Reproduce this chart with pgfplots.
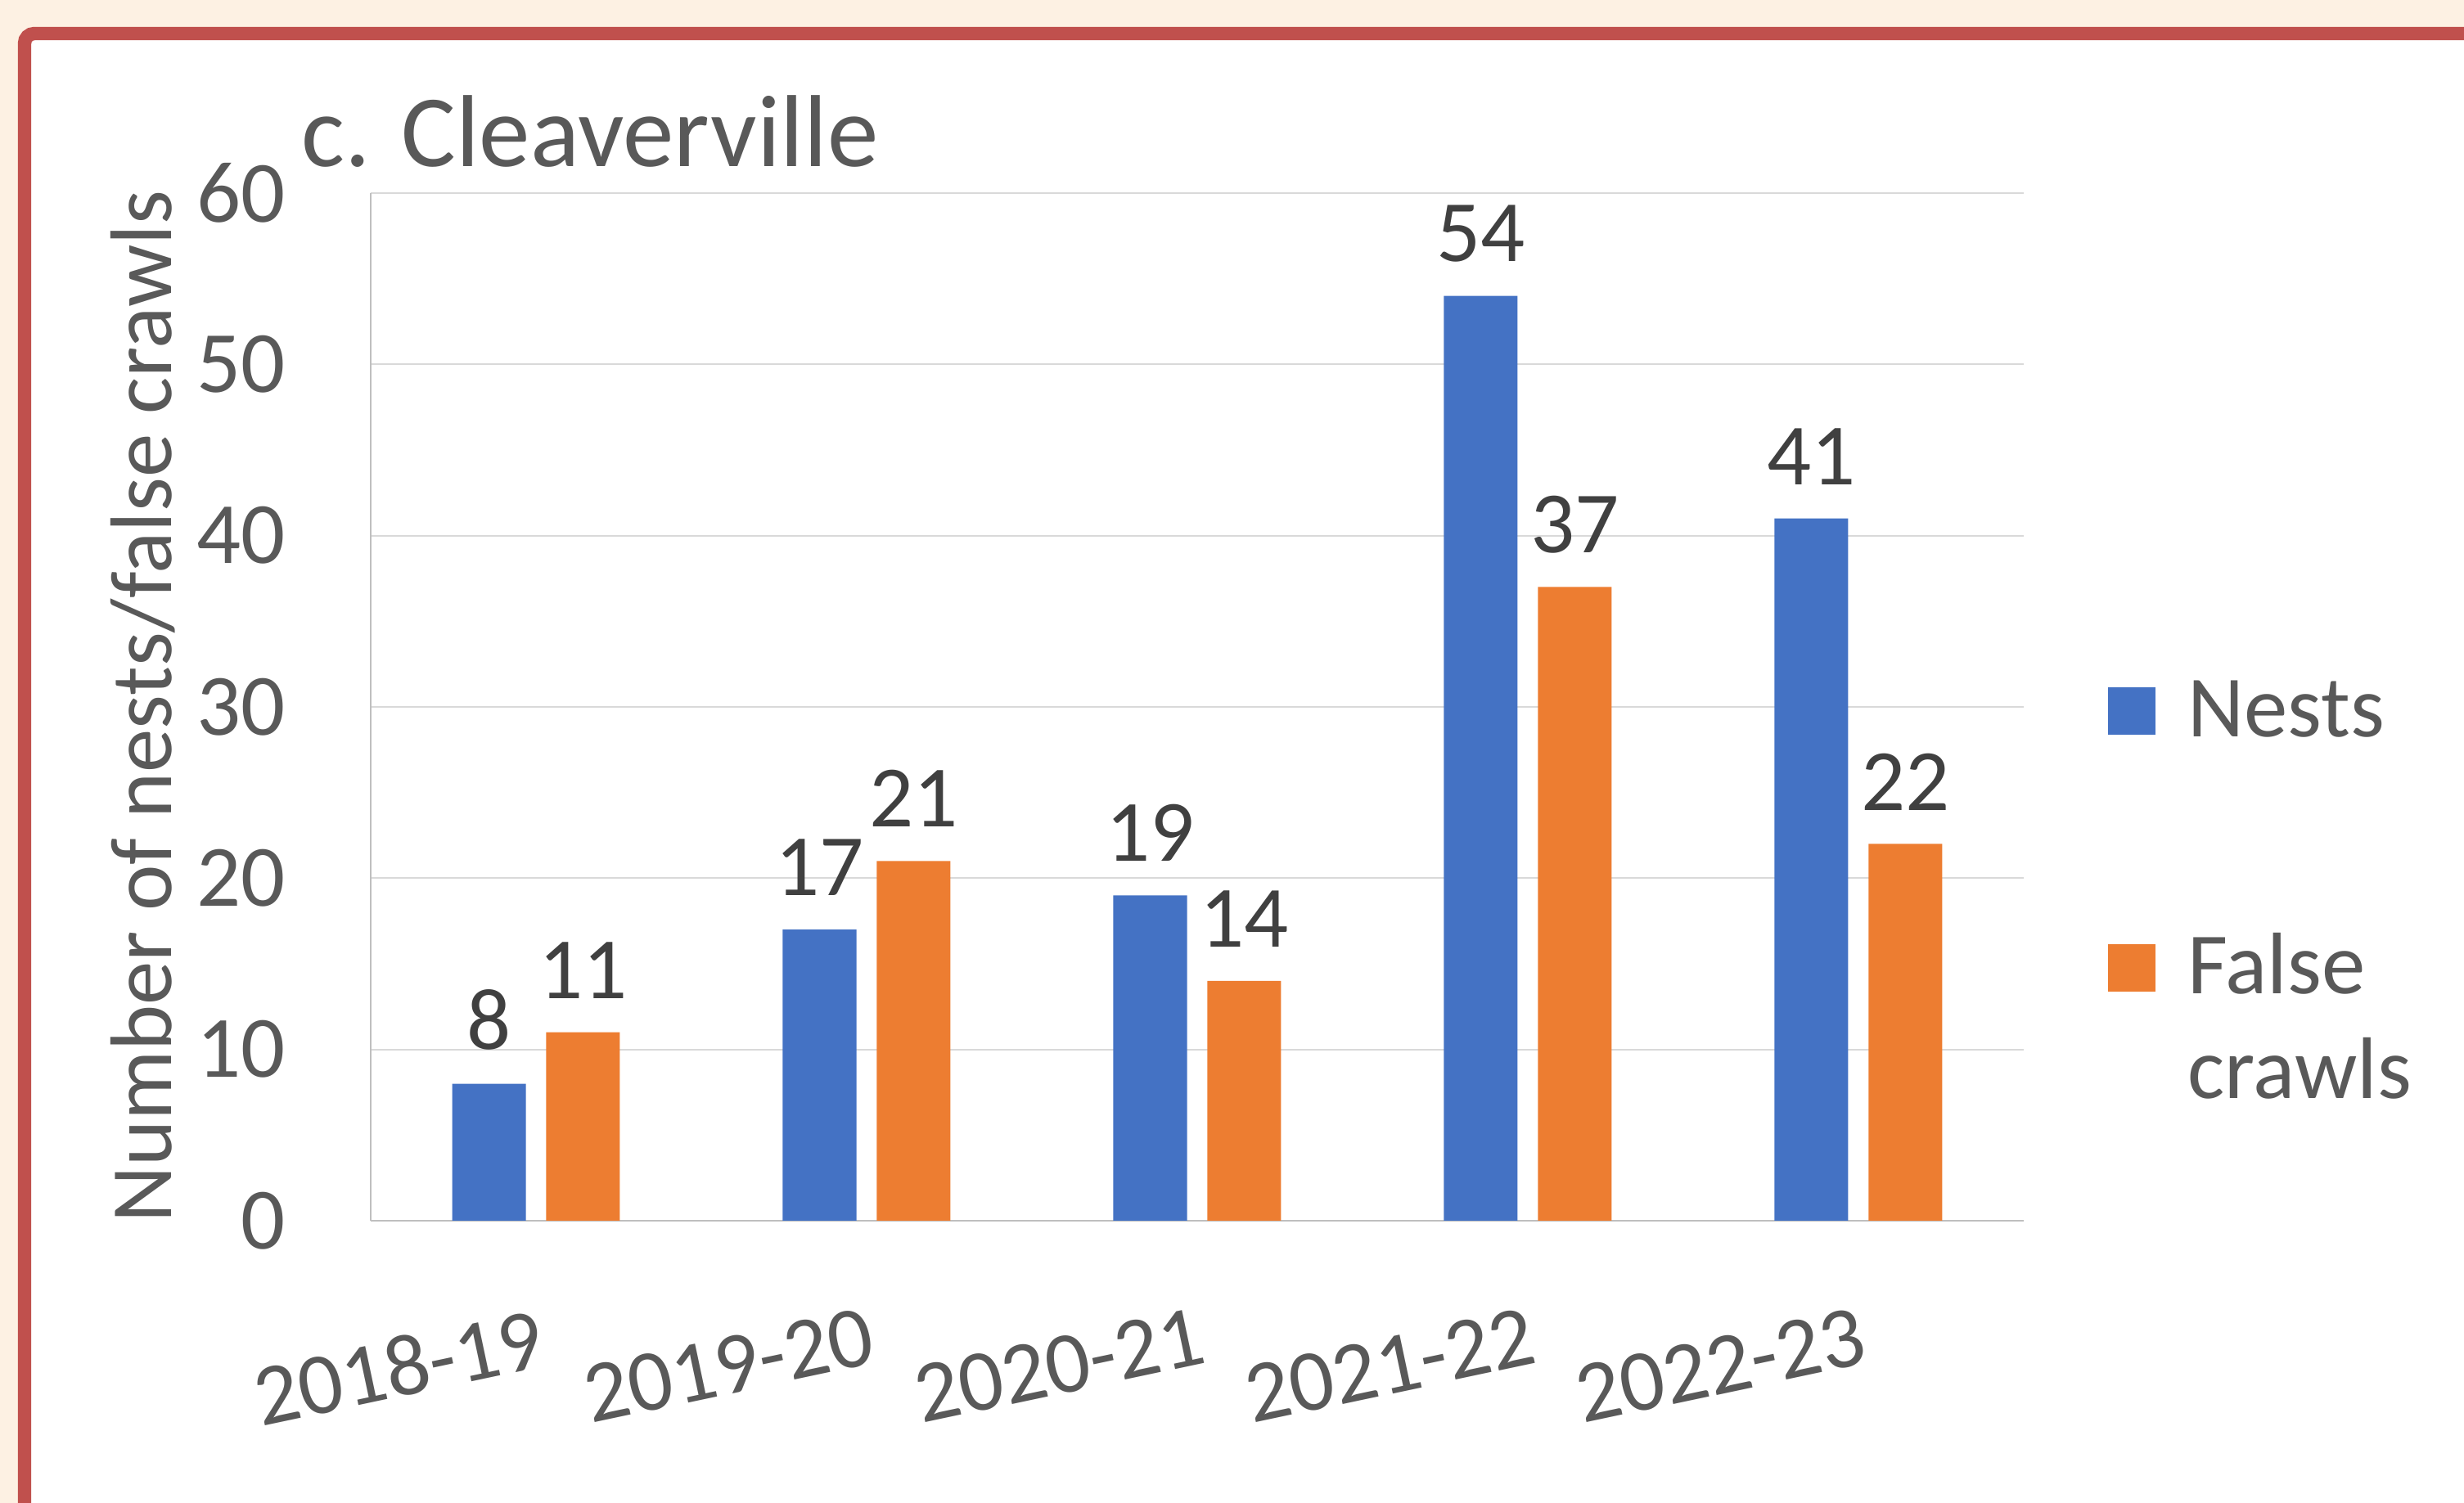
\documentclass[border=0pt]{standalone}
\usepackage{fontspec}
\setmainfont{Carlito}
\usepackage{pgfplots}
\pgfplotsset{compat=1.18}

\definecolor{nestblue}{HTML}{4472C4}
\definecolor{crawlorange}{HTML}{ED7D31}
\definecolor{txtgray}{HTML}{595959}
\definecolor{lblgray}{HTML}{404040}
\definecolor{gridgray}{HTML}{D9D9D9}
\definecolor{axgray}{HTML}{BFBFBF}
\definecolor{framered}{HTML}{C0504D}
\definecolor{cream}{HTML}{FDF1E3}

\newcommand{\chartfont}{\fontsize{15.2pt}{18.2pt}\selectfont}
\newcommand{\titlefont}{\fontsize{17.8pt}{21pt}\selectfont}

% square legend swatch, centred on the cap height of the entry text
\pgfplotsset{sqlegend/.style={legend image code/.code={%
  \fill[##1] (0cm,0.01cm) rectangle (0.29cm,0.30cm);}}}

\begin{document}
\begin{tikzpicture}
\useasboundingbox (0,0) rectangle (15.055cm,9.185cm);
% page background and frame
\begin{scope}
\clip (0,0) rectangle (15.055cm,9.185cm);
\fill[cream] (0,0) rectangle (15.055cm,9.185cm);
\fill[white] (0.15cm,-1cm) rectangle (16cm,8.98cm);
\draw[framered, line width=0.082cm, rounded corners=0.06cm]
  (0.15cm,-1cm) -- (0.15cm,8.98cm) -- (16cm,8.98cm);
\end{scope}

\begin{axis}[
    at={(2.265cm,1.725cm)}, anchor=south west,
    scale only axis,
    width=10.1cm, height=6.28cm,
    ybar, bar width=0.2228,
    xmin=-0.5, xmax=4.5,
    ymin=0, ymax=60,
    xtick={0,1,2,3,4},
    xticklabels={2018-19,2019-20,2020-21,2021-22,2022-23},
    ytick={0,10,...,60},
    ymajorgrids,
    grid style={gridgray, line width=0.01cm},
    axis x line*=bottom, axis y line*=left,
    axis line style={axgray, line width=0.013cm, -},
    major tick length=0pt,
    tick label style={font=\chartfont, text=txtgray},
    /pgf/number format/assume math mode=true,
    yticklabel style={anchor=east, inner sep=0pt, xshift=-0.515cm},
    xticklabel style={yshift=-0.52cm, rotate=12, anchor=north east, inner sep=0pt},
    ylabel={Number of nests/false crawls},
    every axis y label/.style={at={(axis description cs:0,0.5)}, xshift=-1.215cm,
      rotate=90, anchor=base, inner sep=0pt, font=\chartfont, text=txtgray},
    title={c. Cleaverville},
    title style={at={(axis description cs:-0.0386,1.0271)}, anchor=base west,
      xshift=-0.04cm, yshift=-0.22cm,
      inner sep=0pt, font=\titlefont, text=txtgray},
    nodes near coords,
    every node near coord/.append style={font=\chartfont, text=lblgray,
      anchor=south, inner sep=0pt, yshift=0.2cm},
    legend cell align=left,
    legend style={at={(axis description cs:1.0505,0.527)}, anchor=north west,
      draw=none, fill=none, inner sep=0pt, row sep=1.07cm, column sep=0.195cm,
      nodes={inner sep=0pt, text=txtgray, font=\chartfont},
      cells={anchor=base west}},
]
\addplot[fill=nestblue, draw=none, bar shift=-0.1423, forget plot]
  coordinates {(0,8) (1,17) (2,19) (3,54) (4,41)};
\addplot[fill=crawlorange, draw=none, bar shift=0.1423, forget plot]
  coordinates {(0,11) (1,21) (2,14) (3,37) (4,22)};

\addlegendimage{sqlegend, fill=nestblue, draw=none}
\addlegendentry{Nests}
\addlegendimage{sqlegend, fill=crawlorange, draw=none}
\addlegendentry{\begin{tabular}[t]{@{}l@{}}False\\crawls\end{tabular}}
\end{axis}
\end{tikzpicture}
\end{document}
